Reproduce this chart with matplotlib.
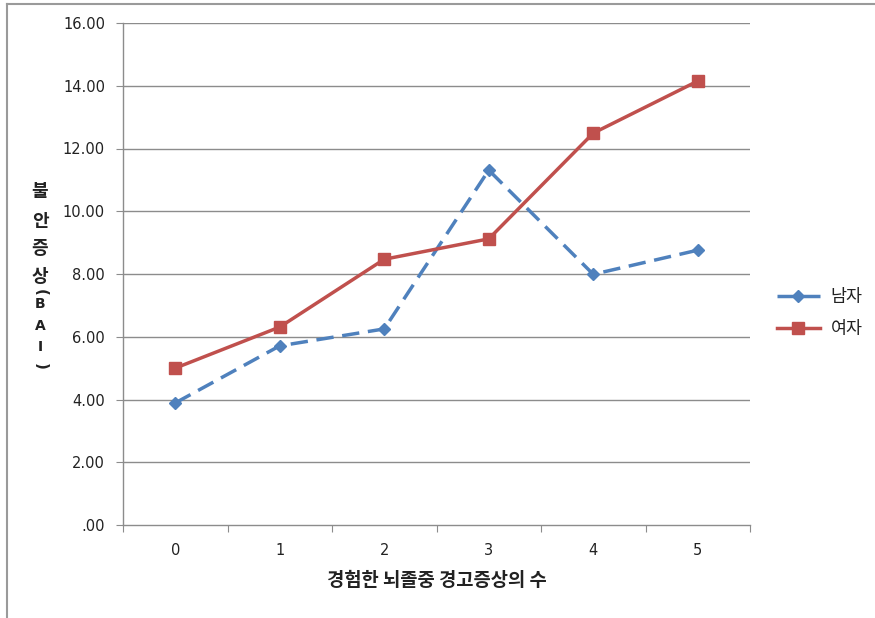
import matplotlib
matplotlib.use("Agg")
import matplotlib.pyplot as plt
from matplotlib.lines import Line2D
import numpy as np

plt.rcParams['font.family'] = ['Noto Sans CJK KR', 'DejaVu Sans']

categories = ['0', '1', '2', '3', '4', '5']
male = [3.89, 5.71, 6.25, 11.31, 7.99, 8.76]
female = [5.00, 6.31, 8.47, 9.12, 12.49, 14.15]
yticks = [0, 2, 4, 6, 8, 10, 12, 14, 16]
ytick_labels = ['.00', '2.00', '4.00', '6.00', '8.00', '10.00', '12.00', '14.00', '16.00']
series_names = ['남자', '여자']
xlabel = '경험한 뇌졸중 경고증상의 수'
ylabel_chars = ['불', '안', '증', '상', '(', 'B', 'A', 'I', ')']

W, H = 875, 618
fig = plt.figure(figsize=(W / 100, H / 100), dpi=100)
fig.patch.set_facecolor('white')

# outer border lines (top and left)
fig.add_artist(Line2D([7 / W, 7 / W], [0, 1 - 4 / H], color='#9a9a9a', lw=1.5, transform=fig.transFigure))
fig.add_artist(Line2D([7 / W, 1], [1 - 4 / H, 1 - 4 / H], color='#9a9a9a', lw=1.5, transform=fig.transFigure))

ax = fig.add_axes([123 / W, 1 - 525 / H, (750 - 123) / W, (525 - 23) / H])
x = np.arange(len(categories))

ax.set_xlim(-0.5, len(categories) - 0.5)
ax.set_ylim(0, 16)
ax.set_yticks(yticks)
ax.set_yticklabels(ytick_labels, fontsize=10.5, color='#222222', family='DejaVu Sans')
for y in yticks[1:]:
    ax.axhline(y, color='#8c8c8c', lw=1.0, zorder=1)

ax.set_xticks(np.arange(-0.5, len(categories), 1.0))
ax.set_xticklabels([])
ax.set_xticks(x, minor=True)
ax.set_xticklabels(categories, minor=True, fontsize=10.5, color='#222222', family='DejaVu Sans')
ax.tick_params(axis='x', which='major', length=5, color='#8c8c8c', direction='out')
ax.tick_params(axis='x', which='minor', length=0, pad=13)
ax.tick_params(axis='y', length=5, color='#8c8c8c', direction='out', pad=8)

for s in ['top', 'right']:
    ax.spines[s].set_visible(False)
for s in ['left', 'bottom']:
    ax.spines[s].set_color('#8c8c8c')
    ax.spines[s].set_linewidth(1.0)

ax.plot(x, male, color='#4F81BD', lw=2.5, ls=(0, (5, 2.5)), marker='D', markersize=6,
        markerfacecolor='#4F81BD', markeredgecolor='#4F81BD', zorder=3, label=series_names[0])
ax.plot(x, female, color='#C0504D', lw=2.5, ls='-', marker='s', markersize=8,
        markerfacecolor='#C0504D', markeredgecolor='#C0504D', zorder=4, label=series_names[1])

leg = fig.legend(loc='upper left', bbox_to_anchor=(761 / W, 1 - 272 / H), frameon=False,
                 fontsize=12.5, handlelength=2.5, labelspacing=0.85, handletextpad=0.6)
for t in leg.get_texts():
    t.set_color('#222222')

fig.text((123 + 750) / 2 / W, 1 - 580 / H, xlabel, ha='center', va='center',
         fontsize=13.5, fontweight='bold', color='#222222')

ys = [192, 221, 249, 277, 292, 304, 326, 347, 366]
for ch, yy in zip(ylabel_chars, ys):
    if ch in '()':
        fig.text(40 / W, 1 - yy / H, ch, ha='center', va='center', rotation=-90,
                 fontsize=11, fontweight='bold', color='#222222', family='DejaVu Sans')
    elif ch in 'BAI':
        fig.text(40 / W, 1 - yy / H, ch, ha='center', va='center',
                 fontsize=10, fontweight='bold', color='#222222', family='DejaVu Sans')
    else:
        fig.text(40 / W, 1 - yy / H, ch, ha='center', va='center',
                 fontsize=13, fontweight='bold', color='#222222')

fig.savefig('out.png', dpi=100, facecolor='white')
